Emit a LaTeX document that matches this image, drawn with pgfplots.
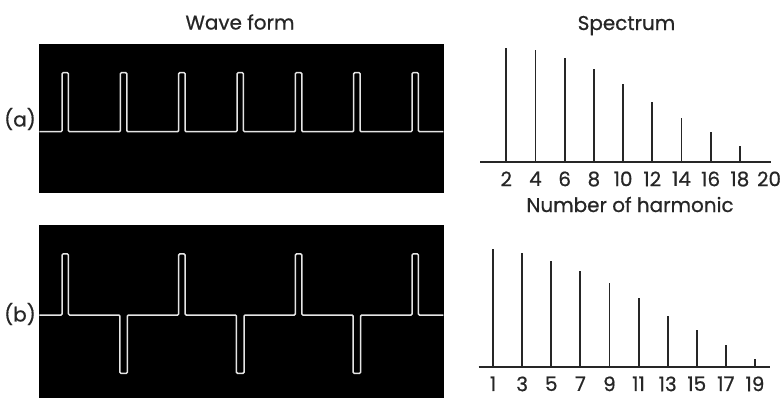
\documentclass[border=0pt]{standalone}
\usepackage{pgfplots}
\pgfplotsset{compat=1.18}
\usepackage{fontspec}
\setmainfont{Poppins}[FakeBold=0.7]

\newcommand{\lblfont}{\fontsize{20}{24}\selectfont}

\pgfplotsset{
  wave/.style={
    scale only axis,
    anchor=south west,
    axis background/.style={fill=black},
    axis line style={draw=black},
    ticks=none,
    xmin=0, xmax=6.926,
  },
  trace/.style={color=white!90!black, line width=1.5bp, rounded corners=1.1bp, mark=none},
  spec/.style={
    scale only axis,
    anchor=south west,
    axis y line=none,
    axis x line=bottom,
    x axis line style={-, line width=1.3bp, color=black!85},
    xtick style={draw=none},
    major tick length=0pt,
    ytick=\empty,
    ymin=0,
    clip=false,
    /pgf/number format/assume math mode=true,
    xticklabel style={font=\lblfont, text=black!85, yshift=-6bp},
  },
  spike/.style={ycomb, mark=none, line width=1.9bp, color=black!85},
}

\begin{document}
\begin{tikzpicture}
\useasboundingbox (0,0) rectangle (783bp,-398bp);

% (a) pulse train, all pulses positive
\begin{axis}[wave, at={(39.3bp,-191.7bp)}, width=404bp, height=147.7bp,
             ymin=-1.017, ymax=1.486]
\addplot[trace] coordinates {
  (0,0) (0.39,0) (0.39,1) (0.50,1) (0.50,0)
  (1.39,0) (1.39,1) (1.50,1) (1.50,0)
  (2.39,0) (2.39,1) (2.50,1) (2.50,0)
  (3.39,0) (3.39,1) (3.50,1) (3.50,0)
  (4.39,0) (4.39,1) (4.50,1) (4.50,0)
  (5.39,0) (5.39,1) (5.50,1) (5.50,0)
  (6.39,0) (6.39,1) (6.50,1) (6.50,0)
  (6.926,0)
};
\end{axis}

% (b) pulse train of alternating sign
\begin{axis}[wave, at={(39.3bp,-397bp)}, width=404bp, height=172bp,
             ymin=-1.344, ymax=1.475]
\addplot[trace] coordinates {
  (0,0) (0.39,0) (0.39,1) (0.50,1) (0.50,0)
  (1.38,0) (1.38,-0.956) (1.51,-0.956) (1.51,0)
  (2.39,0) (2.39,1) (2.50,1) (2.50,0)
  (3.38,0) (3.38,-0.956) (3.51,-0.956) (3.51,0)
  (4.39,0) (4.39,1) (4.50,1) (4.50,0)
  (5.38,0) (5.38,-0.956) (5.51,-0.956) (5.51,0)
  (6.39,0) (6.39,1) (6.50,1) (6.50,0)
  (6.926,0)
};
\end{axis}

% spectrum of (a): even harmonics
\begin{axis}[spec, at={(480bp,-162bp)}, width=290.5bp, height=125.4bp,
             xmin=0.2, xmax=20.1, ymax=1.1, xtick={2,4,...,20}]
\addplot[spike] coordinates {
  (2,1.000) (4,0.982) (6,0.912) (8,0.816) (10,0.684)
  (12,0.526) (14,0.386) (16,0.263) (18,0.140)
};
\end{axis}

% spectrum of (b): odd harmonics
\begin{axis}[spec, at={(478.5bp,-367bp)}, width=291bp, height=123.4bp,
             xmin=0, xmax=20, ymax=1.05, xtick={1,3,...,19}]
\addplot[spike] coordinates {
  (1,1.000) (3,0.966) (5,0.906) (7,0.821) (9,0.719)
  (11,0.583) (13,0.430) (15,0.311) (17,0.191) (19,0.072)
};
\end{axis}

\begin{scope}[every node/.style={font=\lblfont, text=black!85, inner sep=0pt}]
  \node[anchor=base] at (240bp,-29.5bp) {Wave form};
  \node[anchor=base] at (626.5bp,-30bp) {Spectrum};
  \node[anchor=base] at (630bp,-212bp) {Number of harmonic};
  \node at (20bp,-119bp) {(a)};
  \node at (20bp,-314bp) {(b)};
\end{scope}
\end{tikzpicture}
\end{document}
